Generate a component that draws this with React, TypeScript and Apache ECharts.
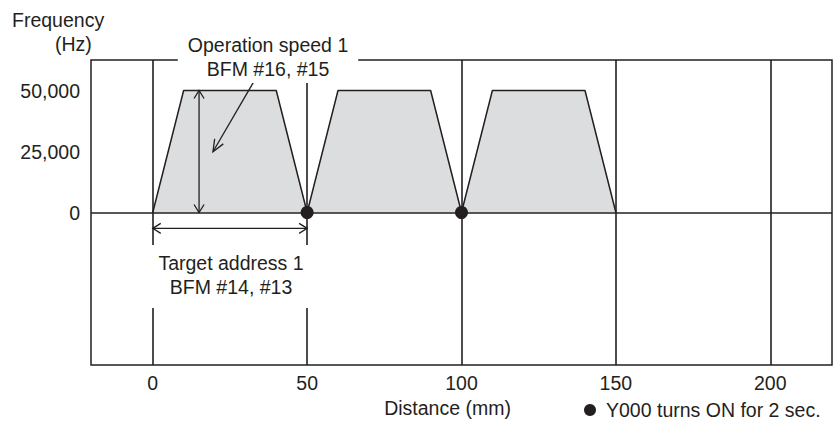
import React, { useEffect, useRef } from "react";
import * as echarts from "echarts";

const xTicks = [0, 50, 100, 150, 200];
const yTicks = [0, 25000, 50000];
const profileX = [0, 10, 40, 50, 60, 90, 100, 110, 140, 150];
const profileY = [0, 50000, 50000, 0, 50000, 50000, 0, 50000, 50000, 0];
const onX = [50, 100];
const onY = [0, 0];
// annotation arrows in data coordinates: [x1, y1, x2, y2, headAtStart(1/0)]
const arrowStart = [[15, 0], [0, -6500], [34, 56400]];
const arrowEnd = [[15, 50000], [50, -6500], [19.5, 24900]];
const arrowBoth = [1, 1, 0];

const INK = "#231f20";
const FONT = "'Liberation Sans', Arial, Helvetica, sans-serif";
const FS = 19.5;

export default function App() {
  const ref = useRef<HTMLDivElement>(null);
  useEffect(() => {
    if (!ref.current) return;
    const chart = echarts.init(ref.current, null, { renderer: "svg" });

    const head = (tip: number[], tail: number[], L: number, W: number) => {
      const dx = tip[0] - tail[0];
      const dy = tip[1] - tail[1];
      const len = Math.sqrt(dx * dx + dy * dy) || 1;
      const ux = dx / len, uy = dy / len;
      const px = -uy, py = ux;
      return [
        [tip[0] - L * ux + W * px, tip[1] - L * uy + W * py],
        [tip[0], tip[1]],
        [tip[0] - L * ux - W * px, tip[1] - L * uy - W * py],
      ];
    };

    const arrowData = arrowStart.map((s, i) => [s[0], s[1], arrowEnd[i][0], arrowEnd[i][1], arrowBoth[i]]);

    chart.setOption({
      animation: false,
      textStyle: { fontFamily: FONT },
      grid: {
        left: 91, right: 1, top: 60, bottom: 54,
        show: true, borderColor: INK, borderWidth: 1.5, backgroundColor: "transparent",
      },
      xAxis: {
        type: "value", min: -20, max: 220,
        axisLine: { show: false }, axisTick: { show: false }, splitLine: { show: false },
        axisLabel: { customValues: xTicks, color: INK, fontSize: FS, fontFamily: FONT, margin: 8 },
        name: "Distance (mm)", nameLocation: "middle", nameGap: 33,
        nameTextStyle: { color: INK, fontSize: FS, fontFamily: FONT, padding: [0, 28, 0, 0] },
      },
      yAxis: {
        type: "value", min: -62500, max: 62500,
        axisLine: { show: false }, axisTick: { show: false }, splitLine: { show: false },
        axisLabel: {
          customValues: yTicks, color: INK, fontSize: FS, fontFamily: FONT, margin: 11,
          formatter: (v: number) => v.toLocaleString("en-US"),
        },
      },
      legend: {
        data: [{ name: "Y000 turns ON for 2 sec.", icon: "circle" }],
        left: 584, top: 400, itemWidth: 22, itemHeight: 12, symbolKeepAspect: true,
        selectedMode: false, padding: 0,
        textStyle: { color: INK, fontSize: FS, fontFamily: FONT },
      },
      series: [
        {
          type: "line", name: "profile",
          data: profileX.map((x, i) => [x, profileY[i]]),
          symbol: "none", z: 2,
          lineStyle: { color: INK, width: 1.5 },
          areaStyle: { color: "#dcdddf", opacity: 1, origin: 0 },
          markLine: {
            silent: true, symbol: "none", label: { show: false },
            lineStyle: { type: "solid", color: INK, width: 1.6 },
            data: [...xTicks.map((v) => ({ xAxis: v })), { yAxis: 0 }],
          },
        },
        {
          type: "custom", name: "arrows", z: 5,
          data: arrowData,
          encode: { x: [0, 2], y: [1, 3] },
          renderItem: (params: any, api: any) => {
            const p1 = api.coord([api.value(0), api.value(1)]);
            const p2 = api.coord([api.value(2), api.value(3)]);
            const both = api.value(4) === 1;
            const L = both ? 8 : 12;
            const W = 5;
            const style = { stroke: INK, lineWidth: 1.3, fill: "none" };
            const children: any[] = [
              { type: "line", shape: { x1: p1[0], y1: p1[1], x2: p2[0], y2: p2[1] }, style },
              { type: "polyline", shape: { points: head(p2, p1, L, W) }, style },
            ];
            if (both) children.push({ type: "polyline", shape: { points: head(p1, p2, L, W) }, style });
            return { type: "group", children };
          },
        },
        {
          type: "scatter", name: "Y000 turns ON for 2 sec.",
          data: onX.map((x, i) => [x, onY[i]]),
          symbol: "circle", symbolSize: 13, z: 6,
          itemStyle: { color: INK, opacity: 1 },
        },
      ],
      graphic: [
        {
          type: "text", left: 12, top: 10, z: 100,
          style: { text: "Frequency", fill: INK, fontSize: FS, fontFamily: FONT },
        },
        {
          type: "text", left: 55, top: 34, z: 100,
          style: { text: "(Hz)", fill: INK, fontSize: FS, fontFamily: FONT },
        },
        {
          type: "text", x: 268, y: 33, z: 100,
          style: {
            text: "Operation speed 1\nBFM #16, #15", fill: INK, fontSize: FS, fontFamily: FONT,
            align: "center", verticalAlign: "top", lineHeight: 24,
            backgroundColor: "#ffffff", padding: [0, 10, 2, 10],
          },
        },
        {
          type: "text", x: 231, y: 245, z: 100,
          style: {
            text: "Target address 1\nBFM #14, #13", fill: INK, fontSize: FS, fontFamily: FONT,
            align: "center", verticalAlign: "top", lineHeight: 24,
            backgroundColor: "#ffffff", padding: [6, 8, 9, 8],
          },
        },
      ],
    });
    return () => chart.dispose();
  }, []);
  return (
    <div
      ref={ref}
      style={{ position: "fixed", left: 0, top: 0, width: 833, height: 423, background: "#fff" }}
    />
  );
}
